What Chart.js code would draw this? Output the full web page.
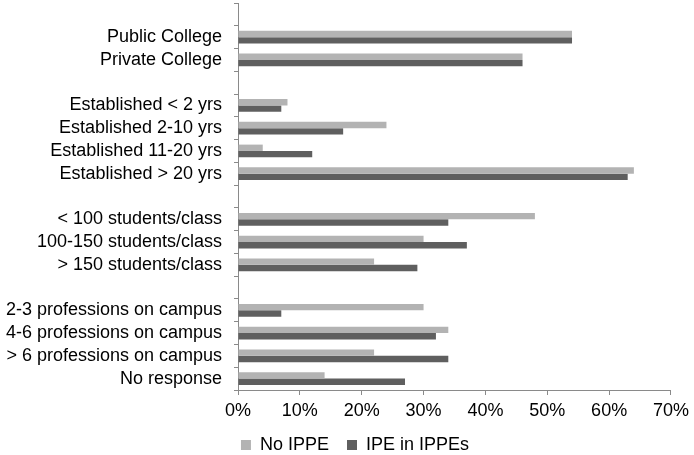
<!DOCTYPE html>
<html>
<head>
<meta charset="utf-8">
<script src="https://cdn.jsdelivr.net/npm/chart.js@4"></script>
<style>
  html, body { margin: 0; padding: 0; background: #fff; }
  #wrap { width: 694px; height: 455px; }
</style>
</head>
<body>
<div id="wrap"><canvas id="chart" width="694" height="455"></canvas></div>
<script>
// 空文字はグループ間の空行
const categories = [
  "",
  "Public College", "Private College",
  "",
  "Established < 2 yrs", "Established 2-10 yrs", "Established 11-20 yrs", "Established > 20 yrs",
  "",
  "< 100 students/class", "100-150 students/class", "> 150 students/class",
  "",
  "2-3 professions on campus", "4-6 professions on campus", "> 6 professions on campus", "No response"
];
const noIppe = [null, 54, 46, null, 8, 24, 4, 64, null, 48, 30, 22, null, 30, 34, 22, 14];
const ipeInIppes = [null, 54, 46, null, 7, 17, 12, 63, null, 34, 37, 29, null, 7, 32, 34, 27];
const xTicks = [0, 10, 20, 30, 40, 50, 60, 70];

const FONT = { family: "'Liberation Sans', Arial, sans-serif", size: 18 };
const AXIS = "#8a8a8a";

// 凡例の高さを固定し、位置を少し右へずらす
const legendTweak = {
  id: "legendTweak",
  afterInit(chart) {
    const lg = chart.legend;
    if (!lg) return;
    const orig = lg.fit;
    lg.fit = function () {
      orig.call(this);
      this.height = 37;
    };
  },
  afterLayout(chart) {
    const lg = chart.legend;
    if (!lg) return;
    lg.left += 18;
    lg.right += 18;
  }
};

new Chart(document.getElementById("chart"), {
  type: "bar",
  data: {
    labels: categories,
    datasets: [
      { label: "No IPPE", data: noIppe, backgroundColor: "#b3b3b3" },
      { label: "IPE in IPPEs", data: ipeInIppes, backgroundColor: "#5f5f5f" }
    ]
  },
  plugins: [legendTweak],
  options: {
    indexAxis: "y",
    responsive: false,
    animation: false,
    categoryPercentage: 0.56,
    barPercentage: 1.0,
    layout: { padding: { top: 3, right: 20, left: 0, bottom: 0 } },
    plugins: {
      legend: {
        position: "bottom",
        labels: { font: FONT, color: "#000", boxWidth: 10, boxHeight: 10, padding: 18 }
      },
      tooltip: { enabled: false }
    },
    scales: {
      x: {
        min: 0,
        max: 70,
        afterBuildTicks(scale) { scale.ticks = xTicks.map(v => ({ value: v })); },
        afterFit(scale) { scale.height = 28; },
        ticks: { font: FONT, color: "#000", padding: 5, callback: v => v + "%" },
        grid: { drawOnChartArea: false, tickLength: 5, color: AXIS },
        border: { color: AXIS }
      },
      y: {
        afterFit(scale) {
          scale.width = 238;
          scale.paddingTop = 0;
          scale.paddingBottom = 0;
        },
        ticks: { font: FONT, color: "#000", padding: 12, autoSkip: false },
        grid: { drawOnChartArea: false, tickLength: 4, color: AXIS, offset: true },
        border: { color: AXIS }
      }
    }
  }
});
</script>
</body>
</html>
